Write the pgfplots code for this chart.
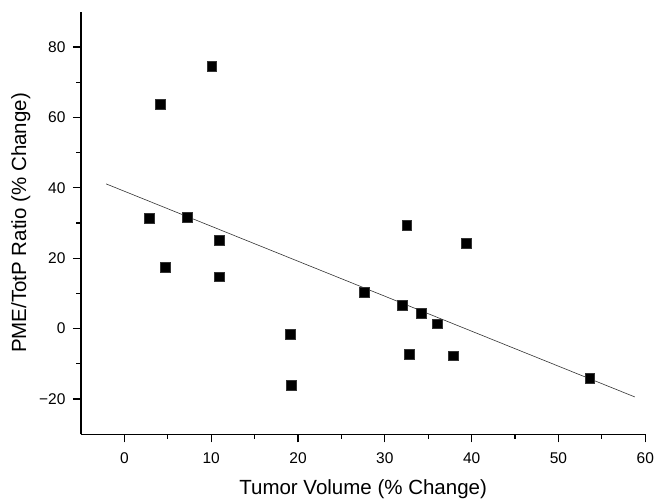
\documentclass[border=0pt]{standalone}
\usepackage{pgfplots}
\pgfplotsset{compat=1.18}
\usepackage{fontspec}
\setmainfont{Liberation Sans}
\begin{document}
\begin{tikzpicture}
\path[use as bounding box] (-81pt,-65.7pt) rectangle (585pt,434.3pt);
\begin{axis}[
  name=ax,
  at={(0pt,0pt)}, anchor=south west,
  scale only axis,
  width=564.3pt, height=422.6pt,
  xmin=-5, xmax=60, ymin=-30, ymax=90,
  axis x line=bottom, axis y line=left,
  axis line style={-, line width=1.4pt},
  xtick={0,10,...,60}, ytick={-20,0,...,80},
  yticklabels={−20,0,20,40,60,80},
  minor x tick num=1, minor y tick num=1,
  tick align=outside,
  major tick length=8pt, minor tick length=4.5pt,
  every tick/.style={black, line width=1.2pt},
  /pgf/number format/assume math mode=true,
  tick label style={font=\fontsize{15.5}{18}\selectfont},
  xticklabel style={yshift=-7pt},
  yticklabel style={xshift=-4pt},
  label style={font=\fontsize{20.5}{24}\selectfont},
  xlabel={Tumor Volume (\% Change)},
  ylabel={PME/TotP Ratio (\% Change)},
  xlabel style={yshift=-9pt},
  ylabel style={yshift=2pt},
  clip=false,
]
\addplot[only marks, mark=square*, mark size=4.8pt, mark options={fill=black, draw=black!80}] coordinates {
  (2.88,31.4) (4.1,63.8) (4.69,17.5) (7.22,31.7) (10.07,74.6)
  (10.94,25.1) (10.94,14.7) (19.08,-1.6) (19.2,-16.0) (27.6,10.3)
  (31.98,6.6) (32.5,29.4) (32.8,-7.2) (34.2,4.4) (36.05,1.4)
  (37.9,-7.7) (39.4,24.2) (53.6,-14.1)
};
\addplot[black!80, line width=0.6pt] coordinates {(-2.1,41.1) (58.8,-19.4)};
\end{axis}
\end{tikzpicture}
\end{document}
